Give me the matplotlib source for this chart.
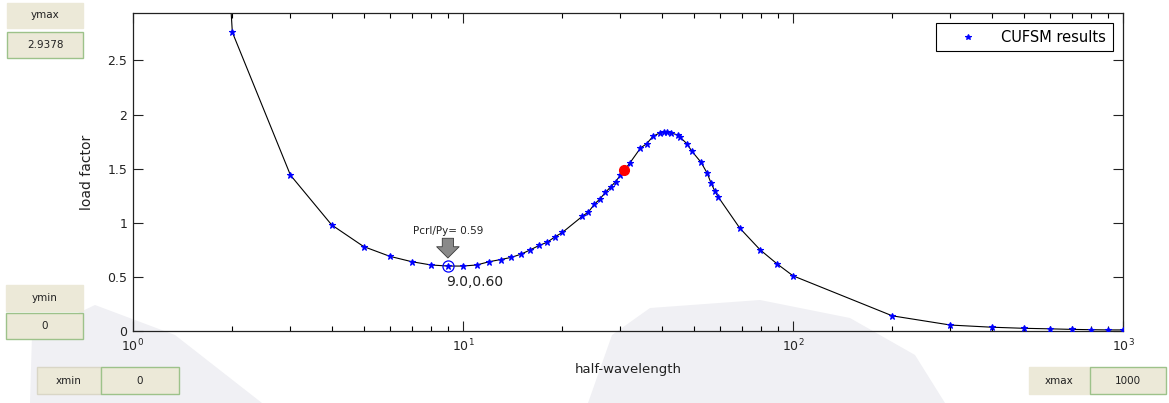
import matplotlib
matplotlib.use('Agg')
import matplotlib.pyplot as plt
from matplotlib.patches import Rectangle, Polygon

# ---------------- data ----------------
half_wavelength = [1, 2, 3, 4, 5, 6, 7, 8, 9, 10, 11, 12, 13, 14, 15, 16, 17, 18, 19, 20,
                   23, 24, 25, 26, 27, 28, 29, 30, 32, 34.5, 36, 37.7, 39.5, 40.6, 41.5,
                   42.7, 44.8, 45.5, 47.7, 49.4, 52.6, 54.9, 56.4, 58, 59.3, 69, 79.5,
                   89.5, 100, 200, 300, 400, 500, 600, 700, 800, 900, 1000]
load_factor = [18.0, 2.76, 1.44, 0.98, 0.78, 0.69, 0.64, 0.61, 0.60, 0.60, 0.61, 0.64,
               0.66, 0.68, 0.71, 0.75, 0.79, 0.82, 0.87, 0.91, 1.06, 1.10, 1.17, 1.22,
               1.28, 1.33, 1.38, 1.44, 1.55, 1.69, 1.73, 1.80, 1.83, 1.84, 1.84, 1.83,
               1.81, 1.79, 1.73, 1.66, 1.56, 1.46, 1.37, 1.29, 1.24, 0.95, 0.75, 0.62,
               0.51, 0.14, 0.055, 0.035, 0.025, 0.02, 0.015, 0.012, 0.01, 0.01]
selected_x = [30.7]
selected_y = [1.49]
min_x = 9.0
min_y = 0.60
pcrl_py = 0.59
y_ticks = [0, 0.5, 1, 1.5, 2, 2.5]
y_tick_labels = ['0', '0.5', '1', '1.5', '2', '2.5']
x_ticks = [1, 10, 100, 1000]
x_tick_labels = ['$10^{0}$', '$10^{1}$', '$10^{2}$', '$10^{3}$']
ymax_value = '2.9378'
ymin_value = '0'
xmin_value = '0'
xmax_value = '1000'
x_lim = (1, 1000)
y_lim = (0, 2.9378)

# ---------------- figure ----------------
plt.rcParams['font.family'] = ['DejaVu Sans']
W, H = 1169, 403
fig = plt.figure(figsize=(W / 100, H / 100), dpi=100)
fig.patch.set_facecolor('white')


def fr(x0, y0, x1, y1):
    """pixel box (top-left origin) -> figure fraction rect"""
    return (x0 / W, 1 - y1 / H, (x1 - x0) / W, (y1 - y0) / H)


def fp(x, y):
    return (x / W, 1 - y / H)


# faint watermark shapes in the background
wm_col = '#F0F0F4'
fig.add_artist(Polygon([fp(*p) for p in [(30, 403), (32, 335), (95, 305), (175, 335), (262, 403)]],
                       closed=True, transform=fig.transFigure, fc=wm_col, ec='none', zorder=0))
fig.add_artist(Polygon([fp(*p) for p in [(588, 403), (612, 335), (650, 308), (760, 300), (850, 318),
                                         (915, 355), (945, 403)]],
                       closed=True, transform=fig.transFigure, fc=wm_col, ec='none', zorder=0))

ax = fig.add_axes(fr(133, 13, 1123, 331))
ax.set_facecolor('none')
ax.set_zorder(2)

ax.plot(half_wavelength, load_factor, '-', color='black', lw=0.8, zorder=2)
ax.plot(half_wavelength, load_factor, ls='none', marker='*', ms=5, mew=0.8,
        color='blue', label='CUFSM results', zorder=3)
ax.plot(selected_x, selected_y, ls='none', marker='o', ms=7, color='red', zorder=4)
ax.plot([min_x], [min_y], ls='none', marker='o', ms=8, mfc='none', mec='blue', mew=0.9, zorder=4)

ax.set_xscale('log')
ax.set_xlim(*x_lim)
ax.set_ylim(*y_lim)
ax.set_yticks(y_ticks)
ax.set_yticklabels(y_tick_labels)
ax.set_xticks(x_ticks)
ax.set_xticklabels(x_tick_labels)
ax.tick_params(which='major', direction='in', length=7, width=0.8, top=True, right=True,
               labelsize=9, colors='#222222')
ax.tick_params(axis='x', which='major', pad=5)
ax.tick_params(axis='y', which='major', pad=4)
ax.tick_params(which='minor', direction='in', length=3.5, width=0.8, top=True, right=True)
for s in ax.spines.values():
    s.set_linewidth(0.9)
    s.set_color('#222222')

ax.set_xlabel('half-wavelength', fontsize=9.5, labelpad=6, color='#222222')
ax.set_ylabel('load factor', fontsize=10, labelpad=10, color='#222222')

leg = ax.legend(loc='upper right', fontsize=10.5, frameon=True, fancybox=False,
                edgecolor='black', borderaxespad=0.7, handlelength=3.4, handletextpad=0.6,
                borderpad=0.45, framealpha=1, markerscale=0.8)
leg.get_frame().set_linewidth(0.8)

# annotation of minimum
ax.annotate('', xy=(min_x, min_y), xytext=(0, 20), textcoords='offset points',
            arrowprops=dict(arrowstyle='simple,head_length=0.45,head_width=0.9,tail_width=0.45',
                            fc='#8a8a8a', ec='#3a3a3a', lw=0.6, shrinkA=0, shrinkB=5.8,
                            mutation_scale=18), zorder=5)
ax.annotate(f'Pcrl/Py= {pcrl_py:.2f}', xy=(min_x, min_y), xytext=(0, 25),
            textcoords='offset points', ha='center', va='center', fontsize=7.5, color='#222222')
ax.annotate(f'{min_x:.1f},{min_y:.2f}', xy=(min_x, min_y), xytext=(-1, -11.5),
            textcoords='offset points', ha='left', va='center', fontsize=10, color='#222222')

# GUI boxes
beige = '#ECE9D8'
green = '#9DC28A'


def box(x0, y0, x1, y1, text, border, fs=7.5):
    fig.add_artist(Rectangle(fr(x0, y0, x1, y1)[:2], (x1 - x0) / W, (y1 - y0) / H,
                             transform=fig.transFigure, fc=beige, ec=border, lw=1.0, zorder=1))
    cx, cy = fp((x0 + x1) / 2, (y0 + y1) / 2)
    fig.text(cx, cy, text, ha='center', va='center', fontsize=fs, color='#222222', zorder=3)


box(7, 3, 83, 28, 'ymax', beige)
box(7, 32, 83, 58, ymax_value, green)
box(6, 285, 83, 311, 'ymin', beige)
box(6, 313, 83, 339, ymin_value, green)
box(37, 367, 101, 394, 'xmin', '#D9D6C6')
box(101, 367, 179, 394, xmin_value, green)
box(1029, 367, 1090, 394, 'xmax', beige)
box(1090, 367, 1166, 394, xmax_value, green)

fig.savefig('out.png', dpi=100, facecolor=fig.get_facecolor())
